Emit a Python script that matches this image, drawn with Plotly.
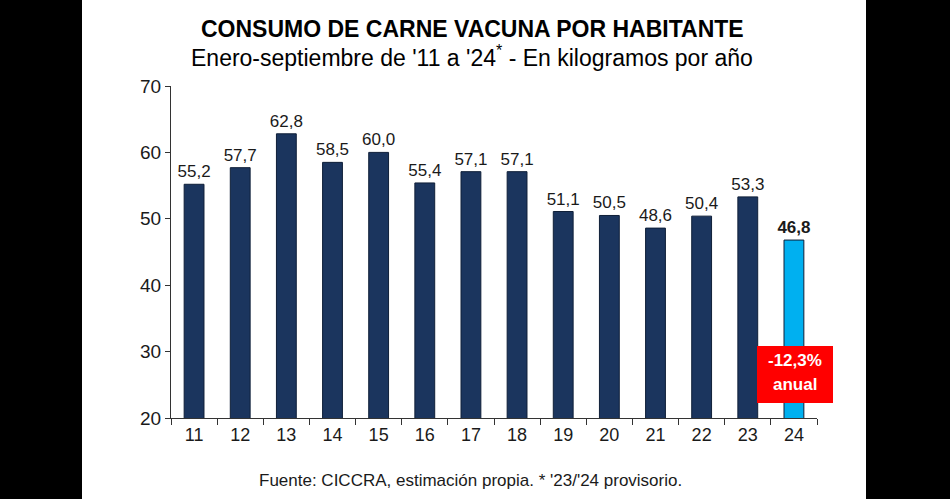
import plotly.graph_objects as go

years = ["11", "12", "13", "14", "15", "16", "17", "18", "19", "20", "21", "22", "23", "24"]
consumo = [55.2, 57.7, 62.8, 58.5, 60.0, 55.4, 57.1, 57.1, 51.1, 50.5, 48.6, 50.4, 53.3, 46.8]
y_ticks = [20, 30, 40, 50, 60, 70]
title = "CONSUMO DE CARNE VACUNA POR HABITANTE"
subtitle = "Enero-septiembre de '11 a '24<sup>*</sup> - En kilogramos por año"
footnote = "Fuente: CICCRA, estimación propia. * '23/'24 provisorio."
variacion = "-12,3%"
variacion_label = "anual"

navy = "#1b355e"
light = "#00b0f0"
colors = [navy] * (len(years) - 1) + [light]
labels = [f"{v:.1f}".replace(".", ",") for v in consumo]
labels[-1] = f"<b>{labels[-1]}</b>"

FONT = "Liberation Sans, Arial, sans-serif"

fig = go.Figure()
fig.add_trace(go.Bar(
    x=years, y=consumo,
    marker=dict(color=colors, line=dict(color="#0f1f38", width=1)),
    width=0.43,
    text=labels, textposition="outside", constraintext="none",
    textfont=dict(family=FONT, size=17, color="#1a1a1a"),
    cliponaxis=False,
    hoverinfo="skip",
))

L, R, T, B = 171, 133, 86, 81
W, H = 950, 499
pw = W - L - R
ph = H - T - B

def px_x(X):
    return (X - L) / pw

def px_y(Y):
    return (H - B - Y) / ph

last = len(years) - 1
box_cx = 795
fig.update_layout(
    width=W, height=H,
    margin=dict(l=L, r=R, t=T, b=B),
    paper_bgcolor="black",
    plot_bgcolor="white",
    showlegend=False,
    font=dict(family=FONT, color="#1a1a1a"),
    shapes=[
        dict(type="rect", xref="paper", yref="paper",
             x0=px_x(82), x1=px_x(866), y0=px_y(H + 5), y1=px_y(-5),
             fillcolor="white", line=dict(width=0), layer="below"),
        dict(type="rect", xref="paper", yref="paper",
             x0=px_x(757), x1=px_x(833), y0=px_y(403), y1=px_y(346),
             fillcolor="#ff0000", line=dict(width=0), layer="above"),
    ],
)

fig.update_xaxes(
    type="category", range=[-0.5, last + 0.5], automargin=False,
    showline=True, linecolor="#333", linewidth=1,
    ticks="outside", tickson="boundaries", ticklen=6, tickcolor="#333",
    tickfont=dict(family=FONT, size=18, color="#1a1a1a"), tickangle=0,
    showgrid=False, zeroline=False,
)
fig.update_yaxes(
    range=[20, 70], tickvals=y_ticks, automargin=False,
    showline=True, linecolor="#333", linewidth=1,
    ticks="outside", ticklen=5, tickcolor="#333",
    tickfont=dict(family=FONT, size=19, color="#1a1a1a"),
    showgrid=False, zeroline=False,
)

fig.add_annotation(text=f"<b>{title}</b>", xref="paper", yref="paper",
                   x=px_x(472), y=px_y(29), showarrow=False,
                   xanchor="center", yanchor="middle",
                   font=dict(family=FONT, size=23, color="black"))
fig.add_annotation(text=subtitle, xref="paper", yref="paper",
                   x=px_x(472), y=px_y(56), showarrow=False,
                   xanchor="center", yanchor="middle",
                   font=dict(family=FONT, size=23, color="black"))
fig.add_annotation(text=footnote, xref="paper", yref="paper",
                   x=px_x(470), y=px_y(480), showarrow=False,
                   xanchor="center", yanchor="middle",
                   font=dict(family=FONT, size=17, color="#1a1a1a"))

fig.add_annotation(text=f"<b>{variacion}</b>", xref="paper", yref="paper",
                   x=px_x(box_cx), y=px_y(360), showarrow=False,
                   xanchor="center", yanchor="middle",
                   font=dict(family=FONT, size=17, color="white"))
fig.add_annotation(text=f"<b>{variacion_label}</b>", xref="paper", yref="paper",
                   x=px_x(box_cx), y=px_y(384), showarrow=False,
                   xanchor="center", yanchor="middle",
                   font=dict(family=FONT, size=17, color="white"))

fig.write_html("out.html", config={"displayModeBar": False},
               post_script="document.body.style.margin='0px';")
